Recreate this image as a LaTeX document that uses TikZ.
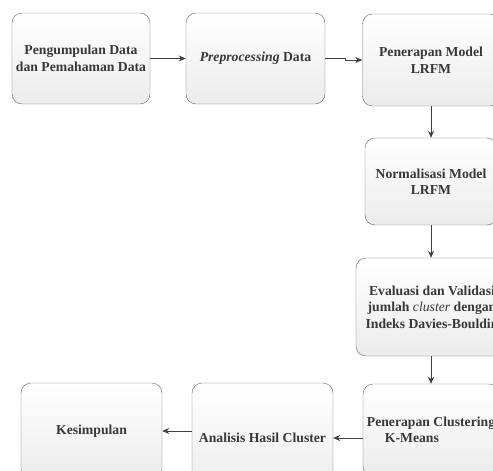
\documentclass[tikz,border=0pt]{standalone}
\usepackage{fontspec}
\setmainfont{Liberation Serif}
\usetikzlibrary{arrows.meta}

\begin{document}
\begin{tikzpicture}[x=1pt, y=-1pt,
    box/.style={draw=gray!80!black, rounded corners=10pt, top color=white,
	bottom color=gray!15, text=black!78, align=center, inner sep=0pt,
	font=\fontsize{13.7}{16.5}\selectfont\bfseries},
    flow/.style={draw=black!75, line width=0.8pt,
	-{Stealth[length=7pt, width=6pt]}}]
    \useasboundingbox (0, 0) rectangle (493, 471);
    \clip (0, 0) rectangle (493, 471);

    \node[box, minimum width=138pt, minimum height=91pt] (kumpul) at (81, 58.5)
	{Pengumpulan Data\\dan Pemahaman Data};
    \node[box, minimum width=139pt, minimum height=91pt] (prepro) at (255.5, 58.5)
	{\textit{Preprocessing} Data};
    \node[box, minimum width=137pt, minimum height=92pt] (lrfm) at (431, 60)
	{Penerapan Model\\LRFM};
    \node[box, minimum width=132pt, minimum height=87pt] (normal) at (431, 181.5)
	{Normalisasi Model\\LRFM};
    \node[box, minimum width=152pt, minimum height=98pt] (evaluasi) at (432, 307)
	{Evaluasi dan Validasi\\jumlah {\mdseries\itshape cluster} dengan\\Indeks Davies-Bouldin};
    \node[box, align=left, minimum width=136pt, minimum height=92pt] (kmeans) at (431, 430)
	{Penerapan Clustering\\\hspace*{18pt}K-Means};
    \node[box, minimum width=141pt, minimum height=110pt] (analisis) at (262.5, 438)
	{Analisis Hasil Cluster};
    \node[box, minimum width=141pt, minimum height=96pt] (simpul) at (91.5, 431)
	{Kesimpulan};

    \draw[flow] (kumpul.east |- prepro.west) -- (prepro.west);
    \draw[flow] (prepro.east) -- ++(20, 0) |- (lrfm.west);
    \draw[flow] (lrfm.south) -- (normal.north);
    \draw[flow] (normal.south) -- (normal.south |- evaluasi.north);
    \draw[flow] (evaluasi.south -| kmeans.north) -- (kmeans.north);
    \draw[flow] (kmeans.west |- analisis.east) -- (analisis.east);
    \draw[flow] (analisis.west |- simpul.east) -- (simpul.east);
\end{tikzpicture}
\end{document}
